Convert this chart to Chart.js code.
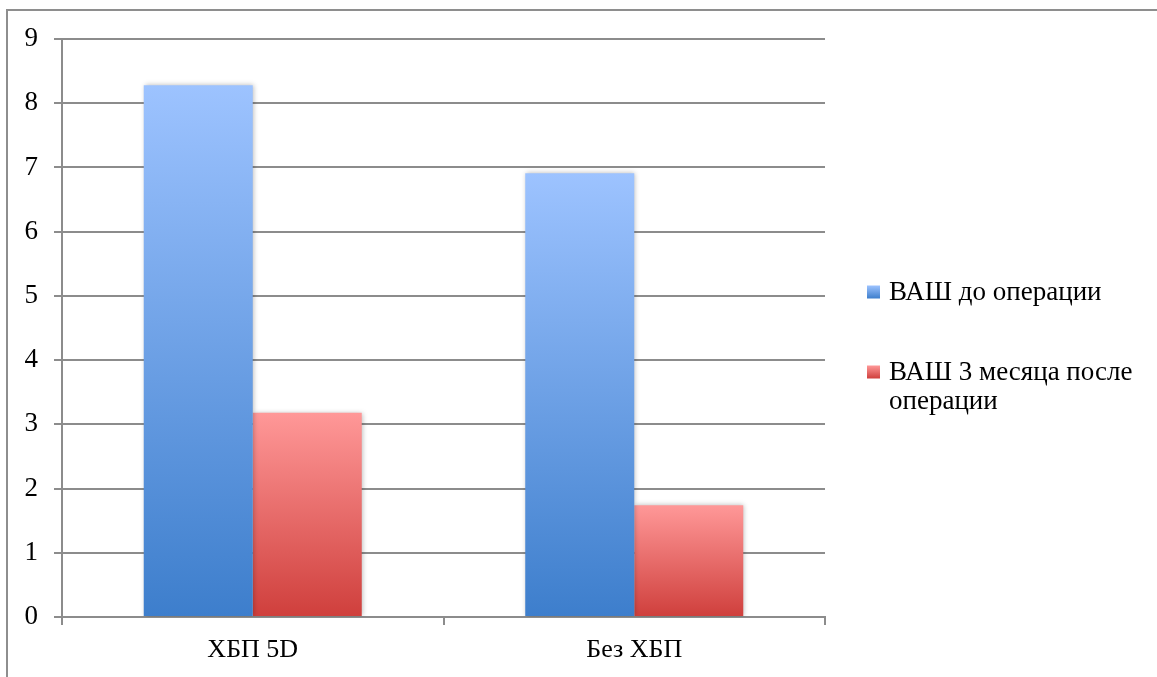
<!DOCTYPE html>
<html>
<head>
<meta charset="utf-8">
<script src="https://cdn.jsdelivr.net/npm/chart.js@4/dist/chart.umd.min.js"></script>
<style>
  html, body { margin: 0; padding: 0; background: #ffffff; overflow: hidden; }
  #wrap { position: relative; width: 1157px; height: 677px; }
</style>
</head>
<body>
<div id="wrap"><canvas id="c" width="1157" height="677"></canvas></div>
<script>
// Categories and series (ВАШ score)
const categories = ['ХБП 5D', 'Без ХБП'];
const seriesNames = ['ВАШ до операции', 'ВАШ 3 месяца после операции'];
const before = [8.28, 6.91];
const after3m = [3.18, 1.74];
const yTicks = [0, 1, 2, 3, 4, 5, 6, 7, 8, 9];

const FONT = "'Liberation Serif', 'Times New Roman', serif";
const gradStops = [
  ['#9dc3ff', '#3d7ecc'],
  ['#ff9898', '#cf3f3c']
];

function barGradient(idx) {
  return function (context) {
    const chart = context.chart;
    const area = chart.chartArea;
    if (!area || context.type !== 'data') return gradStops[idx][0];
    const y = chart.scales.y;
    const top = y.getPixelForValue(context.raw);
    const base = y.getPixelForValue(0);
    const g = chart.ctx.createLinearGradient(0, top, 0, base);
    g.addColorStop(0, gradStops[idx][0]);
    g.addColorStop(1, gradStops[idx][1]);
    return g;
  };
}

// Outer frame of the chart sheet
const framePlugin = {
  id: 'frame',
  beforeDraw(chart) {
    const c = chart.ctx;
    c.save();
    c.fillStyle = '#8e8e8e';
    c.fillRect(6, 9, chart.width, 2);
    c.fillRect(6, 9, 2, chart.height);
    c.restore();
  }
};

// Soft shadow under the bars
const shadowPlugin = {
  id: 'barShadow',
  beforeDatasetsDraw(chart) {
    const c = chart.ctx;
    c.save();
    c.shadowColor = 'rgba(0,0,0,0.28)';
    c.shadowBlur = 5;
    c.shadowOffsetX = 1;
    c.shadowOffsetY = 0;
  },
  afterDatasetsDraw(chart) {
    chart.ctx.restore();
  }
};

// Legend on the right, with wrapped labels
const sideLegend = {
  id: 'sideLegend',
  afterDraw(chart) {
    const c = chart.ctx;
    const boxX = 867, boxSize = 13, textX = 889, maxW = 262, lineH = 29;
    let cy = 292;
    c.save();
    c.font = '27px ' + FONT;
    c.textBaseline = 'middle';
    c.fillStyle = '#000';
    chart.data.datasets.forEach((ds, i) => {
      const words = ds.label.split(' ');
      const lines = [];
      let cur = '';
      words.forEach(w => {
        const t = cur ? cur + ' ' + w : w;
        if (c.measureText(t).width > maxW && cur) { lines.push(cur); cur = w; }
        else cur = t;
      });
      if (cur) lines.push(cur);
      const g = c.createLinearGradient(0, cy - boxSize / 2, 0, cy + boxSize / 2);
      g.addColorStop(0, gradStops[i][0]);
      g.addColorStop(1, gradStops[i][1]);
      c.fillStyle = g;
      c.fillRect(boxX, cy - boxSize / 2, boxSize, boxSize);
      c.fillStyle = '#000';
      lines.forEach((ln, k) => c.fillText(ln, textX, cy + 1 + k * lineH));
      cy += 80;
    });
    c.restore();
  }
};

new Chart(document.getElementById('c'), {
  type: 'bar',
  data: {
    labels: categories,
    datasets: [
      { label: seriesNames[0], data: before, backgroundColor: barGradient(0), borderWidth: 0 },
      { label: seriesNames[1], data: after3m, backgroundColor: barGradient(1), borderWidth: 0 }
    ]
  },
  options: {
    responsive: false,
    animation: false,
    events: [],
    layout: { padding: { left: 0, top: 39, right: 332, bottom: 0 } },
    datasets: { bar: { categoryPercentage: 2 / 3.5, barPercentage: 1.0 } },
    plugins: { legend: { display: false }, tooltip: { enabled: false } },
    scales: {
      x: {
        grid: { display: true, offset: true, drawOnChartArea: false, drawTicks: true, tickLength: 8, color: '#8c8c8c', lineWidth: 2 },
        border: { display: true, color: '#8c8c8c', width: 2 },
        ticks: { color: '#000', font: { family: FONT, size: 26 }, padding: 10 },
        afterFit(s) { s.height = 60; }
      },
      y: {
        min: 0, max: 9,
        afterBuildTicks(s) { s.ticks = yTicks.map(v => ({ value: v })); },
        grid: { color: '#8c8c8c', lineWidth: 2, tickLength: 8, drawTicks: true },
        border: { display: true, color: '#8c8c8c', width: 2 },
        ticks: { color: '#000', font: { family: FONT, size: 27 }, padding: 16 },
        afterFit(s) { s.width = 62; }
      }
    }
  },
  plugins: [framePlugin, shadowPlugin, sideLegend]
});
</script>
</body>
</html>
